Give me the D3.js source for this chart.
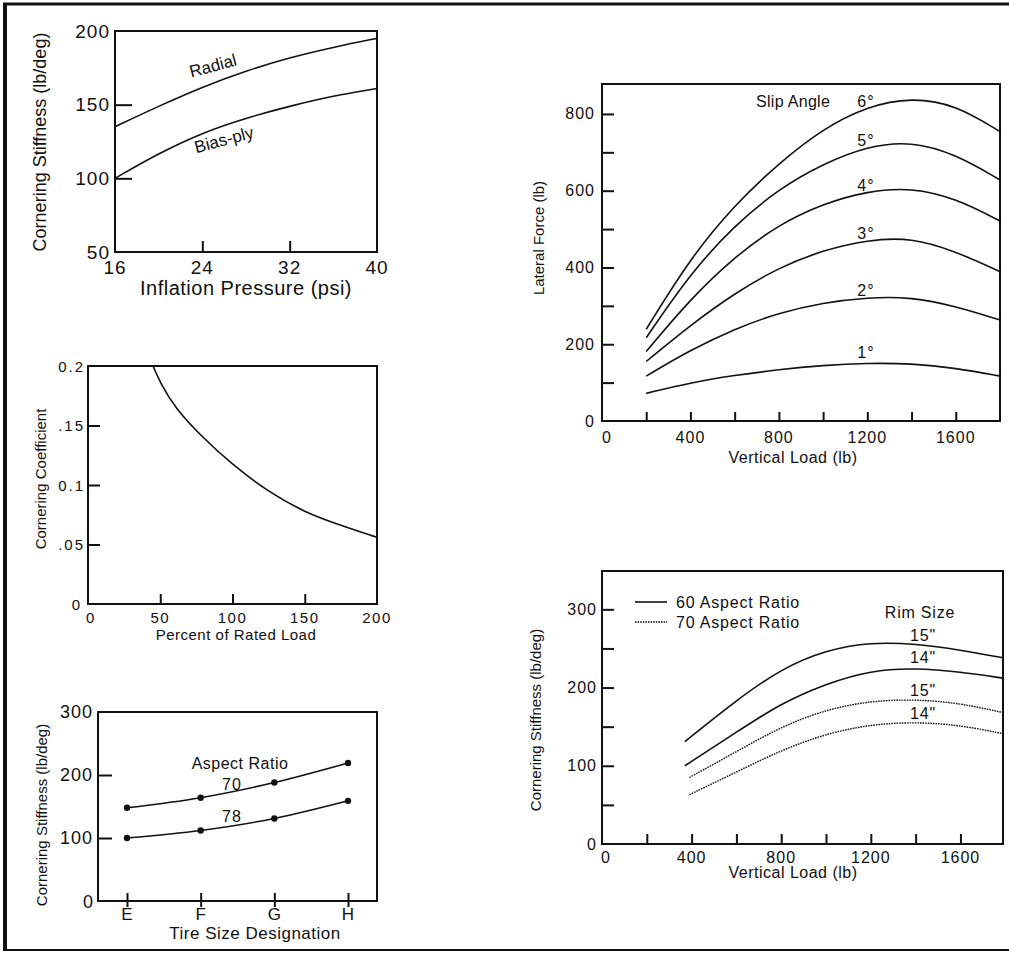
<!DOCTYPE html>
<html lang="en">
<head>
<meta charset="UTF-8">
<title>Tire cornering charts</title>
<script src="https://d3js.org/d3.v7.min.js"></script>
<style>
	body { margin: 0; background: #fff; }
	svg { display: block; font-family: "Liberation Sans", Arial, sans-serif; }
	.frame { fill: none; stroke: #111; stroke-width: 2px; }
	.curve { fill: none; stroke: #111; stroke-width: 1.6px; }
	.dotted { stroke-dasharray: 1.6,1; stroke-width: 1.4px; }
	.axis path { display: none; }
	.axis line { stroke: #111; stroke-width: 2px; }
	.lbl { fill: #111; }
</style>
</head>
<body>
<svg id="chart" width="1009" height="953"></svg>
<script>
// Panel 1: cornering stiffness vs inflation pressure
const pressure = [16, 20, 24, 28, 32, 36, 40];
const radial = [135, 149, 162, 173, 182, 189, 195];
const biasPly = [100, 117, 131, 141, 149, 156, 161];

// Panel 2: cornering coefficient vs percent of rated load
const loadPct = [45, 50, 60, 80, 100, 125, 150, 175, 200];
const coefficient = [0.2, 0.186, 0.165, 0.139, 0.117, 0.094, 0.077, 0.066, 0.056];

// Panel 3: cornering stiffness vs tire size
const tireSizes = ["E", "F", "G", "H"];
const aspect70 = [148, 164, 188, 219];
const aspect78 = [100, 112, 131, 159];

// Panel 4: lateral force vs vertical load
const vertLoad = [200, 400, 600, 800, 1000, 1200, 1400, 1600, 1800];
const slipAngles = ["1°", "2°", "3°", "4°", "5°", "6°"];
const slip1 = [72, 100, 119, 134, 145, 151, 150, 138, 117];
const slip2 = [117, 185, 240, 282, 308, 322, 323, 299, 263];
const slip3 = [155, 250, 333, 400, 445, 472, 478, 442, 389];
const slip4 = [181, 318, 428, 512, 566, 599, 608, 580, 521];
const slip5 = [217, 385, 510, 605, 670, 716, 729, 695, 628];
const slip6 = [239, 425, 563, 672, 762, 820, 843, 824, 754];

// Panel 5: cornering stiffness vs vertical load by rim size
const load60 = [370, 600, 800, 1000, 1200, 1400, 1600, 1790];
const load70 = [390, 600, 800, 1000, 1200, 1400, 1600, 1790];
const ar60rim15 = [131, 184, 224, 248, 258, 256, 248, 238];
const ar60rim14 = [100, 143, 180, 205, 222, 225, 220, 212];
const ar70rim15 = [85, 118, 150, 172, 183, 185, 180, 168];
const ar70rim14 = [63, 92, 120, 141, 153, 156, 152, 141];

const svg = d3.select("#chart");

// outer border (right side is cut off in the scan)
svg.append("line").attr("x1", 3).attr("x2", 1009).attr("y1", 4).attr("y2", 4)
	.attr("stroke", "#111").attr("stroke-width", 3);
svg.append("line").attr("x1", 5).attr("x2", 5).attr("y1", 3).attr("y2", 951)
	.attr("stroke", "#111").attr("stroke-width", 4);
svg.append("line").attr("x1", 3).attr("x2", 1009).attr("y1", 950).attr("y2", 950)
	.attr("stroke", "#111").attr("stroke-width", 2);

function box(x0, y0, x1, y1) {
	svg.append("rect").attr("class", "frame")
		.attr("x", x0).attr("y", y0).attr("width", x1 - x0).attr("height", y1 - y0);
}

function text(x, y, str, size, opts = {}) {
	const t = svg.append("text").attr("class", "lbl")
		.attr("x", x).attr("y", y)
		.attr("text-anchor", opts.anchor || "middle")
		.attr("dominant-baseline", "central")
		.style("font-size", size + "px")
		.text(str);
	if (opts.rotate) t.attr("transform", `rotate(${opts.rotate},${x},${y})`);
	if (opts.spacing) t.style("letter-spacing", opts.spacing + "px");
	return t;
}

function drawLine(xs, ys, x, y, dotted) {
	const pts = xs.map((d, i) => [d, ys[i]]);
	svg.append("path").attr("class", dotted ? "curve dotted" : "curve")
		.attr("d", d3.line().x(d => x(d[0])).y(d => y(d[1])).curve(d3.curveBasis)(pts));
}

// inward ticks only, labels are placed separately
function yAxis(y, left, vals, inner) {
	svg.append("g").attr("class", "axis").attr("transform", `translate(${left},0)`)
		.call(d3.axisLeft(y).tickValues(vals).tickSizeInner(-inner).tickSizeOuter(0).tickFormat(""));
}

function xAxis(x, bottom, vals, inner) {
	return svg.append("g").attr("class", "axis").attr("transform", `translate(0,${bottom})`)
		.call(d3.axisBottom(x).tickValues(vals).tickSizeInner(-inner).tickSizeOuter(0).tickFormat(""));
}

// ---------- Panel 1 ----------
{
	const x = d3.scaleLinear().domain([16, 40]).range([115, 377]);
	const y = d3.scaleLinear().domain([50, 200]).range([252, 31]);
	yAxis(y, 115, [100, 150], 17);
	xAxis(x, 252, [24, 32], 11);
	box(115, 31, 377, 252);
	[50, 100, 150, 200].forEach(v => text(110, y(v), v, 19, {anchor: "end", spacing: 1}));
	[16, 24, 32, 40].forEach(v => text(x(v), 267, v, 19, {spacing: 1}));
	drawLine(pressure, radial, x, y);
	drawLine(pressure, biasPly, x, y);
	text(213, 66, "Radial", 17, {rotate: -15});
	text(224, 140, "Bias-ply", 17, {rotate: -15});
	text(246, 288, "Inflation Pressure (psi)", 20, {spacing: 0.5});
	text(40, 142, "Cornering Stiffness (lb/deg)", 18, {rotate: -90});
}

// ---------- Panel 2 ----------
{
	const x = d3.scaleLinear().domain([0, 200]).range([88, 377]);
	const y = d3.scaleLinear().domain([0, 0.2]).range([604, 366]);
	yAxis(y, 88, [0.05, 0.1, 0.15], 12);
	xAxis(x, 604, [50, 100, 150], 10);
	box(88, 366, 377, 604);
	const ylab = [[0.2, "0.2"], [0.15, ".15"], [0.1, "0.1"], [0.05, ".05"]];
	ylab.forEach(d => text(85, y(d[0]), d[1], 15, {anchor: "end", spacing: 2}));
	text(80, 604, "0", 15, {anchor: "end"});
	[0, 50, 100, 150, 200].forEach(v => text(x(v) + (v === 0 ? 3 : 0), 617, v, 15, {spacing: 1.5}));
	drawLine(loadPct, coefficient, x, y);
	text(236, 634, "Percent of Rated Load", 15, {spacing: 0.5});
	text(40, 479, "Cornering Coefficient", 15, {rotate: -90});
}

// ---------- Panel 3 ----------
{
	const x = d3.scalePoint().domain(tireSizes).range([127, 348]);
	const y = d3.scaleLinear().domain([0, 300]).range([901, 712]);
	yAxis(y, 98, [100, 200], 14);
	const xa = xAxis(x, 901, tireSizes, 8);
	xa.selectAll(".tick line").attr("y1", -8).attr("y2", 6);
	box(98, 712, 377, 901);
	[100, 200, 300].forEach(v => text(93, y(v), v, 18, {anchor: "end", spacing: 1}));
	text(88, 902, "0", 18);
	tireSizes.forEach(s => text(x(s), 914, s, 17));
	[aspect70, aspect78].forEach(series => {
		const xs = tireSizes.map(s => x(s));
		svg.append("path").attr("class", "curve")
			.attr("d", d3.line().x((d, i) => xs[i]).y(d => y(d)).curve(d3.curveCatmullRom.alpha(0.5))(series));
		svg.selectAll(null).data(series).enter().append("circle")
			.attr("cx", (d, i) => xs[i]).attr("cy", d => y(d)).attr("r", 3.2).attr("fill", "#111");
	});
	text(240, 763, "Aspect Ratio", 16, {spacing: 0.5});
	text(232, 784, "70", 16, {spacing: 1});
	text(232, 816, "78", 16, {spacing: 1});
	text(255, 933, "Tire Size Designation", 17, {spacing: 0.5});
	text(41, 815, "Cornering Stiffness (lb/deg)", 15, {rotate: -90});
}

// ---------- Panel 4 ----------
{
	const x = d3.scaleLinear().domain([0, 1800]).range([602, 1000]);
	const y = d3.scaleLinear().domain([0, 878]).range([421, 84]);
	yAxis(y, 602, d3.range(100, 801, 100), 12);
	xAxis(x, 421, d3.range(200, 1601, 200), 9);
	box(602, 84, 1000, 421);
	[0, 200, 400, 600, 800].forEach(v => text(595, y(v), v, 16, {anchor: "end", spacing: 1}));
	[0, 400, 800, 1200, 1600].forEach(v => text(x(v) + (v === 0 ? 5 : 0), 437, v, 16, {spacing: 1}));
	const slips = [slip1, slip2, slip3, slip4, slip5, slip6];
	slips.forEach(s => drawLine(vertLoad, s, x, y));
	const labY = [352, 290, 233, 185, 140];
	slipAngles.slice(0, 5).forEach((a, i) => text(866, labY[i], a, 16, {spacing: 1}));
	text(756, 101, "Slip Angle", 16, {anchor: "start", spacing: 0.3});
	text(866, 101, slipAngles[5], 16, {spacing: 1});
	text(793, 457, "Vertical Load (lb)", 16, {spacing: 0.5});
	text(538, 238, "Lateral Force (lb)", 15, {rotate: -90});
}

// ---------- Panel 5 ----------
{
	const x = d3.scaleLinear().domain([0, 1790]).range([602, 1003]);
	const y = d3.scaleLinear().domain([0, 349]).range([844, 571]);
	yAxis(y, 602, d3.range(50, 301, 50), 12);
	xAxis(x, 844, d3.range(200, 1601, 200), 10);
	box(602, 571, 1003, 844);
	[0, 100, 200, 300].forEach(v => text(597, y(v), v, 16, {anchor: "end", spacing: 1}));
	[0, 400, 800, 1200, 1600].forEach(v => text(x(v) + (v === 0 ? 4 : 0), 857, v, 16, {spacing: 1}));
	drawLine(load60, ar60rim15, x, y);
	drawLine(load60, ar60rim14, x, y);
	drawLine(load70, ar70rim15, x, y, true);
	drawLine(load70, ar70rim14, x, y, true);
	// legend
	svg.append("line").attr("class", "curve").attr("x1", 635).attr("x2", 667).attr("y1", 602).attr("y2", 602);
	svg.append("line").attr("class", "curve dotted").attr("x1", 635).attr("x2", 667).attr("y1", 622).attr("y2", 622);
	text(676, 602, "60 Aspect Ratio", 16, {anchor: "start", spacing: 0.8});
	text(676, 622, "70 Aspect Ratio", 16, {anchor: "start", spacing: 0.8});
	text(920, 612, "Rim Size", 16, {spacing: 0.8});
	const rims = [["15\"", 635], ["14\"", 657], ["15\"", 690], ["14\"", 713]];
	rims.forEach(r => text(923, r[1], r[0], 16, {spacing: 0.8}));
	text(793, 872, "Vertical Load (lb)", 16, {spacing: 0.5});
	text(535, 720, "Cornering Stiffness (lb/deg)", 15, {rotate: -90});
}
</script>
</body>
</html>
